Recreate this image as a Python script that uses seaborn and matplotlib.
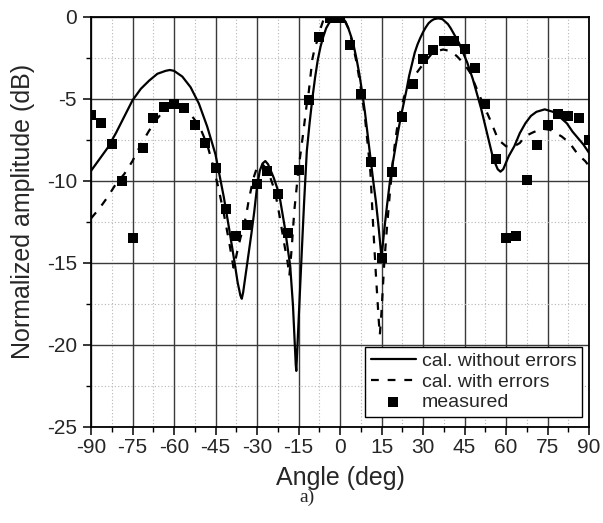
import numpy as np
import pandas as pd
import matplotlib
matplotlib.use("Agg")
import matplotlib.pyplot as plt
from matplotlib.ticker import MultipleLocator
import seaborn as sns

# ---- data ----
angle_ideal = [-90, -87, -84, -81, -78, -75, -72, -69, -66, -63, -61.5, -60, -57, -54, -51, -48, -45,
               -42, -40, -38, -37, -36, -35.5, -35, -34, -33, -32, -31, -30, -29, -28, -27, -26, -25,
               -24, -22, -20, -18, -17, -16, -15.8, -15, -14, -13, -12, -11, -10, -9, -8, -7, -6, -5,
               -4, -3, -2, -1, 0, 1, 2, 3, 4, 5, 6, 7, 8, 9, 10, 11, 12, 13, 14, 15, 16, 17, 18, 19,
               20, 21, 22, 23, 24, 25, 26, 27, 28, 29, 30, 31, 32, 33, 34, 35.5, 37, 38, 39, 40, 41,
               42, 43, 44, 45, 46, 47, 48, 49, 50, 51, 52, 53, 54, 55, 56, 57, 58, 59, 60, 61, 62, 63,
               65, 67, 69, 71, 74, 77, 80, 82, 84, 86, 88, 90]
db_ideal = [-9.4, -8.7, -8.0, -7.1, -6.1, -5.1, -4.4, -3.9, -3.48, -3.3, -3.25, -3.3, -3.65, -4.3, -5.3,
            -6.7, -8.4, -11.0, -13.0, -15.1, -16.2, -17.0, -17.2, -16.8, -15.6, -14.4, -13.2, -11.9,
            -10.4, -9.4, -8.95, -8.8, -9.0, -9.4, -9.8, -10.8, -12.8, -15.2, -17.6, -21.2, -21.6,
            -18.6, -15.0, -11.4, -8.2, -6.5, -5.0, -3.7, -2.6, -1.8, -1.2, -0.7, -0.4, -0.2, -0.05,
            0.0, 0.0, -0.1, -0.3, -0.7, -1.2, -1.8, -2.6, -3.5, -4.6, -5.8, -7.2, -8.6, -10.0, -11.3,
            -12.9, -14.7, -13.0, -11.5, -10.1, -9.0, -8.0, -7.0, -6.1, -5.3, -4.5, -3.6, -2.9, -2.2,
            -1.7, -1.3, -0.95, -0.65, -0.4, -0.25, -0.15, -0.1, -0.15, -0.3, -0.45, -0.7, -1.0, -1.3,
            -1.6, -2.0, -2.4, -2.8, -3.3, -3.8, -4.4, -5.0, -5.6, -6.3, -7.0, -7.7, -8.4, -8.9, -9.3,
            -9.45, -9.3, -8.9, -8.5, -8.2, -7.9, -7.1, -6.5, -6.05, -5.8, -5.65, -5.8, -6.2, -6.5,
            -7.0, -7.4, -7.8, -8.3]

angle_err = [-90, -87, -84, -81, -78, -75, -72, -69, -66, -63, -60, -58, -56, -54, -52, -50, -48, -46,
             -44, -42, -40, -39, -38.5, -38, -37, -36, -35, -34, -33, -32, -31, -30, -29, -28, -27,
             -26, -25, -24, -23, -22, -21, -20, -19, -18.3, -17.5, -16.5, -15, -14, -13.3, -12,
             -11.5, -10, -9, -8, -7, -6, -5, -4, -2, 0, 1, 2, 3, 3.6, 5, 6, 7.2, 8, 9, 10.2, 11, 12,
             13, 14, 14.4, 15, 15.6, 16, 17, 18, 19, 20, 21, 22, 23.5, 25, 26.5, 30, 33.7, 37.3, 40,
             42.2, 45, 47, 50.5, 54.2, 57.2, 60, 63, 65, 66.8, 69.8, 72, 74, 76, 78, 80.1, 83, 86,
             88.6, 90]
db_err = [-12.3, -11.7, -11.0, -10.2, -9.6, -8.8, -7.8, -6.95, -6.2, -5.6, -5.3, -5.35, -5.6, -5.95,
          -6.4, -7.0, -7.8, -9.0, -10.4, -12.0, -13.8, -14.8, -15.3, -15.0, -14.2, -13.5, -12.9,
          -12.2, -11.2, -10.4, -9.7, -9.2, -9.0, -9.0, -9.2, -9.5, -9.9, -10.4, -11.1, -12.0, -13.0,
          -14.0, -14.9, -15.8, -14.2, -11.8, -9.3, -8.0, -7.1, -5.3, -4.9, -2.6, -1.8, -1.4, -0.7,
          -0.2, -0.05, 0.0, 0.0, 0.0, -0.1, -0.35, -0.7, -1.0, -2.0, -2.8, -4.0, -4.9, -6.1, -8.1,
          -9.5, -12.8, -15.8, -18.5, -19.4, -18.0, -16.2, -15.0, -12.8, -10.8, -9.0, -7.5, -6.4,
          -5.6, -4.7, -4.1, -3.7, -2.9, -2.15, -2.0, -2.1, -2.4, -2.9, -3.4, -4.84, -6.26, -7.5,
          -7.9, -7.9, -7.7, -7.3, -7.05, -6.9, -6.85, -6.9, -7.1, -7.3, -7.7, -8.4, -8.8, -9.1]

angle_meas = [-90, -86.25, -82.5, -78.75, -75, -71.25, -67.5, -63.75, -60, -56.25, -52.5, -48.75,
              -45, -41.25, -37.5, -33.75, -30, -26.25, -22.5, -18.75, -15, -11.25, -7.5, -3.75, 0,
              3.75, 7.5, 11.25, 15, 18.75, 22.5, 26.25, 30, 33.75, 37.5, 41.25, 45, 48.75, 52.5,
              56.25, 60, 63.75, 67.5, 71.25, 75, 78.75, 82.5, 86.25, 90]
db_meas = [-6.0, -6.5, -7.75, -10.0, -13.5, -8.0, -6.15, -5.5, -5.3, -5.55, -6.6, -7.7, -9.25, -11.7,
           -13.4, -12.7, -10.2, -9.4, -10.8, -13.2, -9.35, -5.1, -1.25, -0.1, -0.1, -1.75, -4.7,
           -8.85, -14.7, -9.5, -6.1, -4.1, -2.6, -2.05, -1.5, -1.5, -2.0, -3.15, -5.35, -8.65, -13.5,
           -13.4, -9.95, -7.8, -6.6, -5.95, -6.05, -6.2, -7.5]

x_ticks = [-90, -75, -60, -45, -30, -15, 0, 15, 30, 45, 60, 75, 90]
y_ticks = [-25, -20, -15, -10, -5, 0]
labels = ["cal. without errors", "cal. with errors", "measured"]

# ---- plotting ----
sns.set_theme(style="white")
plt.rcParams['font.family'] = ['Liberation Sans', 'DejaVu Sans']

fig = plt.figure(figsize=(6.03, 5.23), dpi=100)
ax = fig.add_axes([91/603, 1 - 426.7/523, 498/603, 410/523])

df_ideal = pd.DataFrame({"angle": angle_ideal, "db": db_ideal})
df_err = pd.DataFrame({"angle": angle_err, "db": db_err})
df_meas = pd.DataFrame({"angle": angle_meas, "db": db_meas})

sns.lineplot(data=df_ideal, x="angle", y="db", ax=ax, color="black", lw=1.6,
             label=labels[0], estimator=None, sort=False, zorder=3)
sns.lineplot(data=df_err, x="angle", y="db", ax=ax, color="black", lw=1.6,
             linestyle=(0, (3.5, 4.0)), label=labels[1], estimator=None, sort=False, zorder=3)
sns.scatterplot(data=df_meas, x="angle", y="db", ax=ax, color="black", marker="s", s=44,
                linewidth=0, label=labels[2], zorder=4, clip_on=True)

ax.set_xlim(-90, 90)
ax.set_ylim(-25, 0)
ax.set_xticks(x_ticks)
ax.set_yticks(y_ticks)
ax.set_xticklabels([str(v) for v in x_ticks])
ax.set_yticklabels([str(v) for v in y_ticks])
ax.xaxis.set_minor_locator(MultipleLocator(7.5))
ax.yaxis.set_minor_locator(MultipleLocator(2.5))
ax.set_axisbelow(True)
ax.grid(which="major", color="#3a3a3a", lw=1.0, ls="-")
ax.grid(which="minor", color="#b5b5b5", lw=0.8, ls=(0, (1, 2)))

ax.tick_params(axis="both", which="major", direction="out", length=6, width=1.1,
               color="black", labelsize=15, bottom=True, left=True, top=False, right=False)
ax.tick_params(axis="both", which="minor", direction="out", length=3.5, width=1.0,
               color="black", bottom=True, left=True, top=False, right=False)
ax.tick_params(axis="y", which="major", pad=4)
ax.tick_params(axis="x", which="major", pad=2)

for sp in ax.spines.values():
    sp.set_color("black")
    sp.set_linewidth(1.3)
    sp.set_visible(True)

ax.set_xlabel("Angle (deg)", fontsize=18, va="center")
ax.set_ylabel("Normalized amplitude (dB)", fontsize=18, va="center")
ax.xaxis.set_label_coords(0.5, (426.7 - 478) / 410)
ax.yaxis.set_label_coords((23 - 91) / 498, (426.7 - 211) / 410)

ax.text((307 - 91) / 498, (426.7 - 497) / 410, "a)", transform=ax.transAxes,
        ha="center", va="center", fontsize=14, family=["Liberation Serif", "DejaVu Serif"])

leg = ax.legend(loc="lower right", bbox_to_anchor=(0.986, 0.0237), borderaxespad=0,
                frameon=True, fancybox=False, framealpha=1, edgecolor="black", fontsize=14,
                handlelength=2.3, handletextpad=0.3, labelspacing=0.15, borderpad=0.3,
                scatterpoints=1)
leg.get_frame().set_linewidth(1.0)

fig.savefig("out.png", dpi=100)
